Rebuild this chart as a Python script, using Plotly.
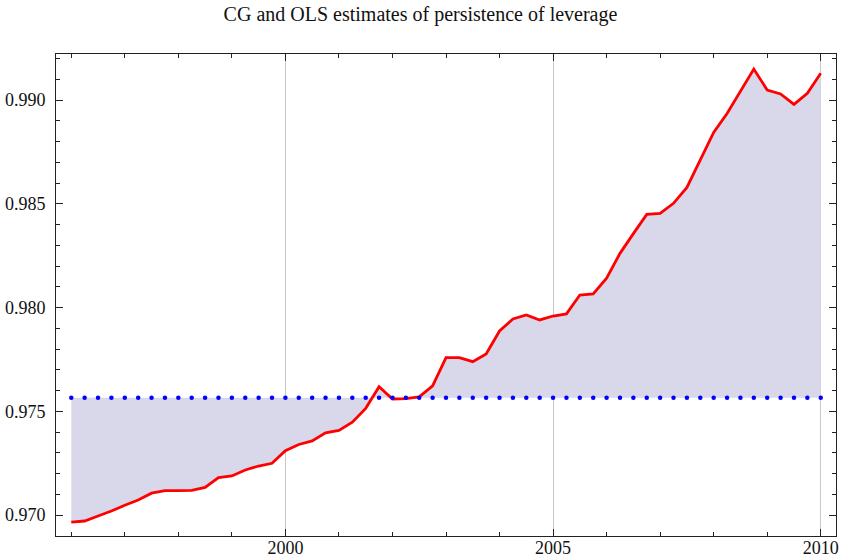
import plotly.graph_objects as go

# quarterly dates 1996.00 .. 2010.00
years = [1996 + 0.25 * i for i in range(57)]

cg_estimate = [
    0.96966, 0.96971, 0.96995, 0.97019, 0.97047, 0.97072, 0.97105, 0.97117,
    0.97117, 0.97119, 0.97133, 0.97180, 0.97188, 0.97217, 0.97236, 0.97249,
    0.97310, 0.97340, 0.97357, 0.97396, 0.97408, 0.97447, 0.97514, 0.97618,
    0.97559, 0.97561, 0.97569, 0.97622, 0.97758, 0.97758, 0.97739, 0.97776,
    0.97887, 0.97945, 0.97964, 0.97940, 0.97959, 0.97969, 0.98060, 0.98065,
    0.98141, 0.98261, 0.98356, 0.98449, 0.98454, 0.98502, 0.98579, 0.98711,
    0.98844, 0.98935, 0.99040, 0.99149, 0.99048, 0.99029, 0.98979, 0.99032,
    0.99129,
]
ols_estimate = 0.97565

x_ticks = [2000, 2005, 2010]
y_ticks = [0.970, 0.975, 0.980, 0.985, 0.990]

SERIF = "Liberation Serif, Times New Roman, Times, serif"

fig = go.Figure()

# baseline for the filling
fig.add_trace(go.Scatter(
    x=years, y=[ols_estimate] * len(years), mode="lines",
    line=dict(width=0, color="rgba(0,0,0,0)"), hoverinfo="skip",
))
fig.add_trace(go.Scatter(
    x=years, y=cg_estimate, mode="lines", fill="tonexty",
    fillcolor="rgba(216,216,234,1)",
    line=dict(color="#ff0000", width=2.8),
))
fig.add_trace(go.Scatter(
    x=years, y=[ols_estimate] * len(years), mode="markers",
    marker=dict(color="#0000ff", size=4.5),
))

axis_common = dict(
    showline=True, linecolor="#222222", linewidth=1, mirror="ticks",
    ticks="inside", ticklen=7, tickcolor="#222222", zeroline=False,
    automargin=False,
    tickfont=dict(family=SERIF, size=18, color="#111111"),
)

fig.update_xaxes(
    range=[1995.715, 2010.285], tickvals=x_ticks,
    showgrid=True, gridcolor="#c8c8c8", gridwidth=1,
    minor=dict(dtick=1, tick0=2000, ticks="inside", ticklen=4,
               tickcolor="#222222", showgrid=False),
    ticklabelstandoff=-5,
    **axis_common,
)
fig.update_yaxes(
    range=[0.968988, 0.992217], tickvals=y_ticks, tickformat=".3f",
    showgrid=False,
    minor=dict(dtick=0.001, tick0=0.97, ticks="inside", ticklen=4,
               tickcolor="#222222", showgrid=False),
    ticklabelstandoff=6,
    **axis_common,
)

fig.update_layout(
    width=841, height=558,
    margin=dict(l=56, r=5, t=54, b=22),
    paper_bgcolor="white", plot_bgcolor="white",
    showlegend=False,
    title=dict(text="CG and OLS estimates of persistence of leverage",
               x=0.5, xanchor="center", y=1 - 14 / 558, yanchor="middle",
               font=dict(family=SERIF, size=20, color="#111111")),
)

fig.write_html("out.html", config={"displayModeBar": False},
               post_script="document.body.style.margin='0';")
